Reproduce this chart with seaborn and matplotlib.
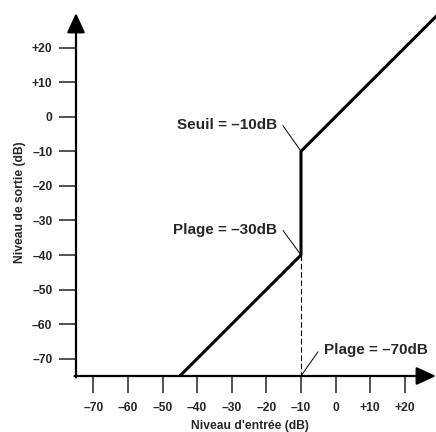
import matplotlib
matplotlib.use("Agg")
import matplotlib.pyplot as plt
import seaborn as sns
import pandas as pd

# ---- data ----
input_db = [-45, -10, -10, 30]
output_db = [-75, -40, -10, 30]
tick_values = [-70, -60, -50, -40, -30, -20, -10, 0, 10, 20]
tick_labels = ["–70", "–60", "–50", "–40", "–30", "–20", "–10", "0", "+10", "+20"]
threshold_db = -10
range_out_db = -40
axis_min = -75
annotations = ["Seuil = –10dB", "Plage = –30dB", "Plage = –70dB"]
x_label = "Niveau d'entrée (dB)"
y_label = "Niveau de sortie (dB)"

sns.set_theme(style="white")
plt.rcParams["font.family"] = ["Liberation Sans", "DejaVu Sans"]
plt.rcParams["font.weight"] = "bold"

W, H = 436, 432
fig = plt.figure(figsize=(W / 100, H / 100), dpi=100)
ax = fig.add_axes([76 / W, 56 / H, 360 / W, 363 / H])
ax.set_xlim(-75, 29)
ax.set_ylim(-75, 30)

df = pd.DataFrame({"inp": input_db, "out": output_db})
sns.lineplot(data=df, x="inp", y="out", sort=False, estimator=None,
             color="black", lw=2.2, ax=ax)

# dashed guide
ax.plot([threshold_db, threshold_db], [range_out_db, axis_min], color="black",
        lw=0.8, dashes=(5, 2.5))

for s in ax.spines.values():
    s.set_visible(False)

# axes with arrows
arrow_kw = dict(arrowstyle="-|>,head_length=1.2,head_width=0.55", lw=1.6,
                color="black", mutation_scale=10, shrinkA=0, shrinkB=0)
ax.annotate("", xy=(-75, 30), xytext=(-75, -75.4), arrowprops=arrow_kw,
            annotation_clip=False)
ax.annotate("", xy=(29, -75), xytext=(-75.4, -75), arrowprops=arrow_kw,
            annotation_clip=False)

ax.set_xticks(tick_values)
ax.set_xticklabels(tick_labels, fontsize=8.7, fontweight="bold")
ax.set_yticks(tick_values)
ax.set_yticklabels(tick_labels, fontsize=8.7, fontweight="bold")
ax.tick_params(axis="both", direction="out", length=12, width=1.1, color="#222222",
               bottom=True, left=True)
ax.tick_params(axis="y", pad=5)
ax.tick_params(axis="x", pad=6.5)

ax.set_xlabel("")
ax.set_ylabel("")
fig.text(250 / W, 1 - 426 / H, x_label, ha="center", va="center",
         fontsize=8.7, fontweight="bold")
fig.text(20 / W, 1 - 202.5 / H, y_label, ha="center", va="center", rotation=90,
         fontsize=8.7, fontweight="bold")

# annotations
ax.text(-16.9, -1.9, annotations[0], ha="right", va="center_baseline",
        fontsize=11, fontweight="bold")
ax.plot([-15.2, threshold_db], [-2.6, -10], color="black", lw=0.7)
ax.text(-16.9, -32.2, annotations[1], ha="right", va="center_baseline",
        fontsize=11, fontweight="bold")
ax.plot([-15.2, threshold_db], [-32.9, range_out_db], color="black", lw=0.7)
ax.text(-3.35, -67.0, annotations[2], ha="left", va="center_baseline",
        fontsize=11, fontweight="bold")
ax.plot([-5.1, threshold_db], [-68, axis_min], color="black", lw=0.7)

fig.savefig("out.png", dpi=100)
